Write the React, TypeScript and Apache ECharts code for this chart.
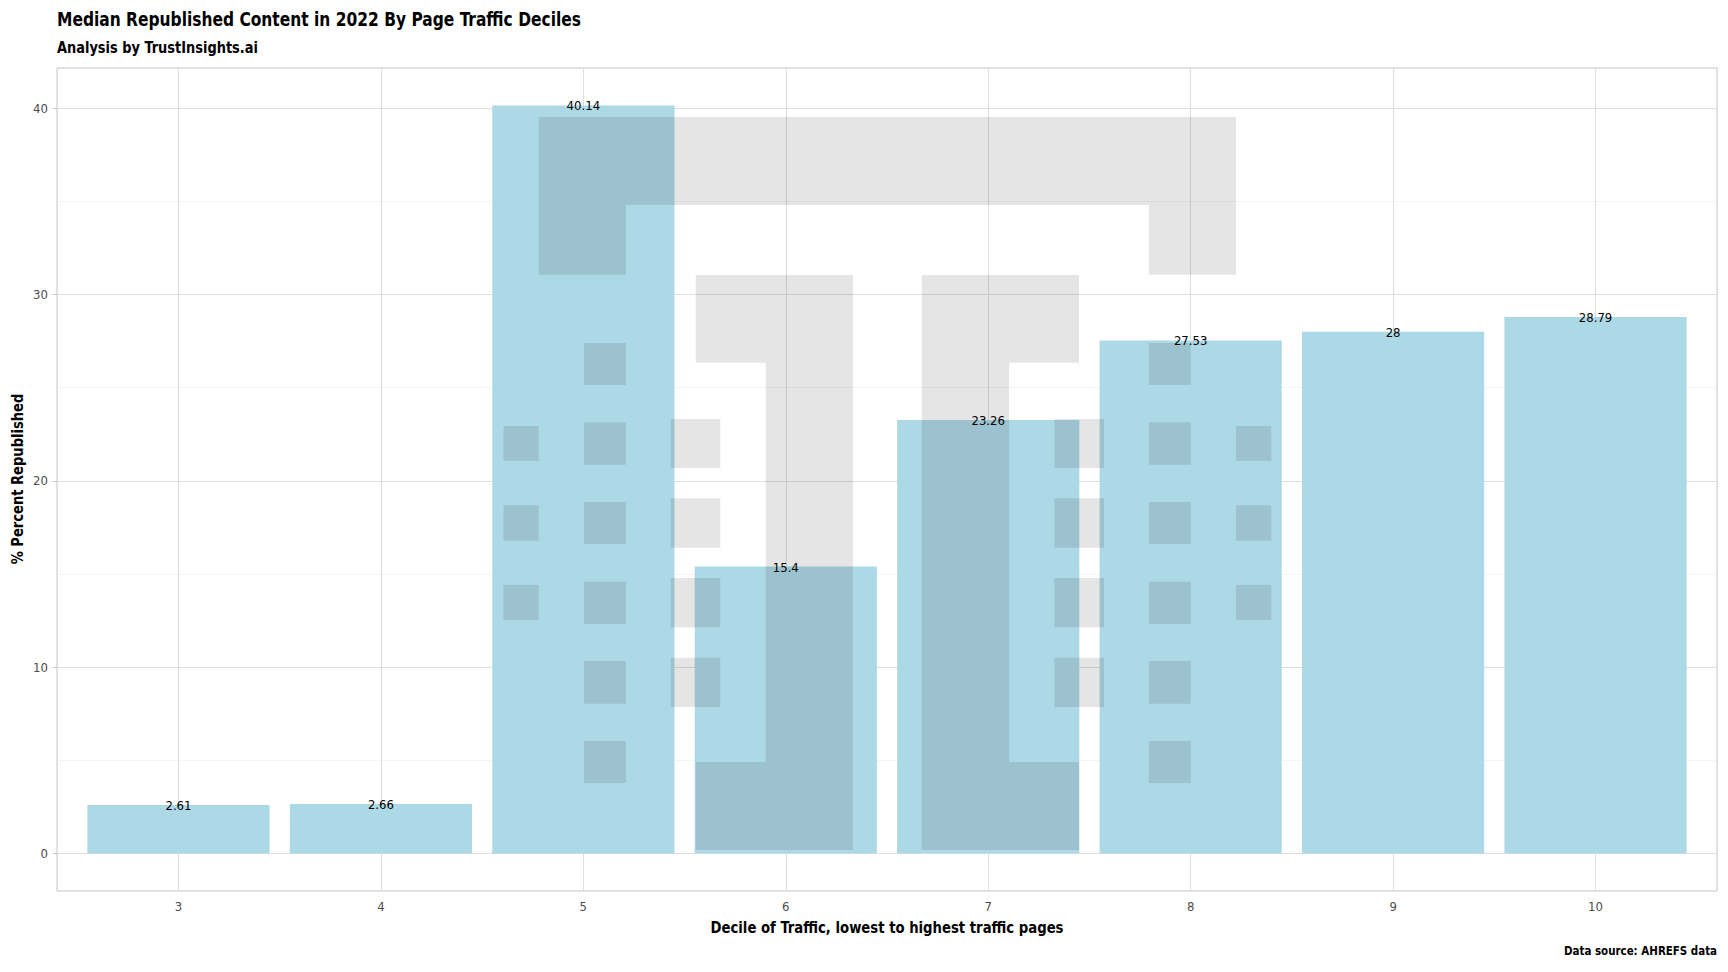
import React, { useEffect, useRef } from "react";
import * as echarts from "echarts";

const categories = [3, 4, 5, 6, 7, 8, 9, 10];
const values = [2.61, 2.66, 40.14, 15.4, 23.26, 27.53, 28, 28.79];
const yMajorTicks = [0, 10, 20, 30, 40];
const yMinorTicks = [5, 15, 25, 35];

const TITLE = "Median Republished Content in 2022 By Page Traffic Deciles";
const SUBTITLE = "Analysis by TrustInsights.ai";
const CAPTION = "Data source: AHREFS data";
const X_NAME = "Decile of Traffic, lowest to highest traffic pages";
const Y_NAME = "% Percent Republished";

const FONT = "'DejaVu Sans Condensed', 'Liberation Sans Narrow', 'DejaVu Sans', sans-serif";
const LOGO_FILL = "rgba(0,0,0,0.1)";
const MIRROR = 1774.8;

// watermark logo (left half + symmetric rects), pixel rects [x0, y0, x1, y1]
const logoCenterRects = [[538.7, 117, 1236.1, 205]];
const logoHalfRects = [
  [538.7, 205, 625.9, 274.7],
  [695.8, 275, 853, 362.7],
  [765.7, 362.7, 853, 762],
  [695.8, 762, 853, 850],
  [503.5, 426, 538.7, 461],
  [503.5, 505.3, 538.7, 540.7],
  [503.5, 585, 538.7, 620],
  [584, 343, 626, 385],
  [584, 422.3, 626, 464.7],
  [584, 502, 626, 544],
  [584, 581.7, 626, 624],
  [584, 661, 626, 703.7],
  [584, 741, 626, 783],
  [670.8, 419, 720.3, 468],
  [670.8, 498.3, 720.3, 547.7],
  [670.8, 578, 720.3, 627.3],
  [670.8, 657.7, 720.3, 707],
];

function buildLogo() {
  const rects: number[][] = [...logoCenterRects];
  logoHalfRects.forEach((r) => {
    rects.push(r);
    rects.push([MIRROR - r[2], r[1], MIRROR - r[0], r[3]]);
  });
  return rects.map((r) => ({
    type: "rect",
    z: 100,
    silent: true,
    shape: { x: r[0], y: r[1], width: r[2] - r[0], height: r[3] - r[1] },
    style: { fill: LOGO_FILL },
  }));
}

function label(text: string, x: number, y: number, size: number, align: string, scaleX: number, rotation = 0) {
  return {
    type: "text",
    x,
    y,
    rotation,
    scaleX,
    z: 50,
    silent: true,
    style: {
      text,
      x: 0,
      y: 0,
      fill: "#000",
      font: `bold ${size}px ${FONT}`,
      textAlign: align,
      textVerticalAlign: "middle",
    },
  };
}

export default function App() {
  const ref = useRef<HTMLDivElement>(null);
  useEffect(() => {
    if (!ref.current) return;
    const chart = echarts.init(ref.current, undefined, { renderer: "svg" });
    const gridLines: any[] = [
      ...yMinorTicks.map((v) => ({ yAxis: v, lineStyle: { color: "#efefef", width: 0.7, type: "solid" } })),
      ...yMajorTicks.map((v) => ({ yAxis: v, lineStyle: { color: "#dedede", width: 1, type: "solid" } })),
      ...categories.map((c) => ({ xAxis: c, lineStyle: { color: "#dedede", width: 1, type: "solid" } })),
    ];
    chart.setOption({
      animation: false,
      backgroundColor: "#ffffff",
      grid: {
        left: 57,
        top: 68,
        width: 1660,
        height: 823,
        show: true,
        borderColor: "#c4c4c4",
        borderWidth: 1,
        backgroundColor: "transparent",
        containLabel: false,
      },
      xAxis: {
        type: "value",
        min: 2.4,
        max: 10.6,
        axisLine: { show: false },
        axisTick: { show: true, customValues: categories, length: 4, lineStyle: { color: "#c4c4c4" } },
        axisLabel: { customValues: categories, margin: 9, color: "#4d4d4d", fontSize: 13, fontFamily: FONT },
        splitLine: { show: false },
      },
      yAxis: {
        type: "value",
        min: -2.007,
        max: 42.147,
        axisLine: { show: false },
        axisTick: { show: true, customValues: yMajorTicks, length: 4, lineStyle: { color: "#c4c4c4" } },
        axisLabel: { customValues: yMajorTicks, margin: 9, color: "#4d4d4d", fontSize: 13, fontFamily: FONT },
        splitLine: { show: false },
      },
      series: [
        {
          type: "line",
          data: [],
          z: 1,
          silent: true,
          markLine: {
            silent: true,
            z: 1,
            symbol: "none",
            label: { show: false },
            emphasis: { disabled: true },
            data: gridLines,
          },
        },
        {
          type: "bar",
          z: 3,
          barWidth: "90%",
          data: categories.map((c, i) => [c, values[i]]),
          itemStyle: { color: "#ADD8E6" },
          emphasis: { disabled: true },
          label: {
            show: true,
            position: "top",
            distance: -7,
            formatter: (p: any) => String(p.value[1]),
            fontFamily: FONT,
            fontSize: 13,
            color: "#000",
          },
        },
      ],
      graphic: [
        ...buildLogo(),
        label(TITLE, 57, 19, 20, "left", 0.86),
        label(SUBTITLE, 57, 47.5, 16, "left", 0.9),
        label(CAPTION, 1717, 951, 13, "right", 0.88),
        label(X_NAME, 887, 928, 16, "center", 0.92),
        label(Y_NAME, 17.6, 479, 16, "center", 0.91, Math.PI / 2),
      ],
    });
    return () => chart.dispose();
  }, []);
  return (
    <div
      ref={ref}
      style={{ position: "fixed", left: 0, top: 0, width: 1728, height: 972 }}
    />
  );
}
